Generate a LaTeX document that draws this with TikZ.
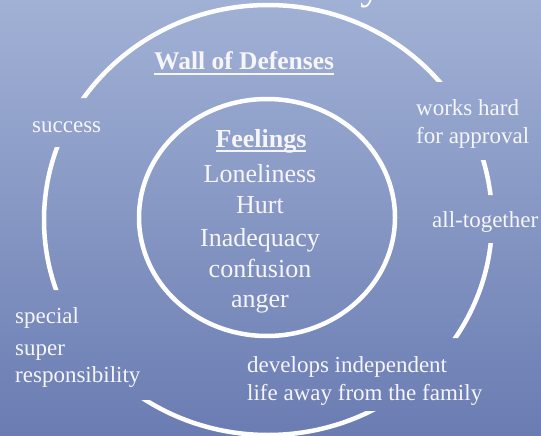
\documentclass[tikz,border=0pt]{standalone}
\usepackage{fontspec}
\setmainfont{Liberation Serif}
\definecolor{bgtop}{RGB}{161,177,213}
\definecolor{bgbot}{RGB}{106,124,178}
\definecolor{txt}{RGB}{246,246,250}
\newcommand\ulbox[3]{\setbox0\hbox{#1}\rlap{\rule[-#2]{\wd0}{#3}}\box0}
\begin{document}
\begin{tikzpicture}[x=1pt,y=-1pt,
  walltext/.style={text=txt, font=\fontsize{23}{27}\selectfont, inner sep=0pt, anchor=base west},
  feeltext/.style={text=txt, font=\fontsize{26}{31}\selectfont, inner sep=0pt, anchor=base},
  ring/.style={draw=white, line width=4.5pt}]
\useasboundingbox (0,0) rectangle (541,436);
\clip (0,0) rectangle (541,436);
\shade[top color=bgtop, bottom color=bgbot] (0,0) rectangle (541,436);
% partial title letter at top
\node[text=white, font=\fontsize{44}{50}\selectfont, inner sep=0pt, anchor=base west] (title) at (360,-1.5) {y};
% outer wall (broken by the text boxes)
\begin{scope}[even odd rule]
\clip (-10,-10) rectangle (560,450)
  (25,98) rectangle (112,147)
  (410,82) rectangle (540,160)
  (425,195) rectangle (545,243)
  (8,290) rectangle (152,400)
  (245,338) rectangle (505,411);
\draw[ring] (268,220) ellipse [x radius=224pt, y radius=215pt];
\end{scope}
% inner circle
\draw[ring] (267,217.5) ellipse [x radius=128pt, y radius=118.5pt];
\coordinate (innerc) at (267,217.5);
% wall label
\node[text=txt, font=\bfseries\fontsize{25.5}{30}\selectfont, inner sep=0pt, anchor=base west] (wall) at (154,70) {\ulbox{Wall of Defenses}{5.5pt}{2.2pt}};
% defenses
\node[walltext] (success) at (32,132) {success};
\node[walltext] (works) at (416,115) {works hard};
\node[walltext] (approval) at (416,143) {for approval};
\node[walltext] (alltog) at (432,227) {all-together};
\node[walltext] (special) at (15,323) {special};
\node[walltext] (super) at (15,355) {super};
\node[walltext] (resp) at (15,382) {responsibility};
\node[walltext] (develops) at (247,372) {develops independent};
\node[walltext] (lifeaway) at (247,400) {life away from the family};
% feelings
\node[feeltext, font=\bfseries\fontsize{26}{31}\selectfont] (feel) at (261,147) {\ulbox{Feelings}{4.5pt}{2pt}};
\node[feeltext] (lonely) at (260,182) {Loneliness};
\node[feeltext] (hurt) at (260,213) {Hurt};
\node[feeltext] (inadeq) at (260,246) {Inadequacy};
\node[feeltext] (confus) at (260,277) {confusion};
\node[feeltext] (anger) at (260,307) {anger};
\end{tikzpicture}
\end{document}
